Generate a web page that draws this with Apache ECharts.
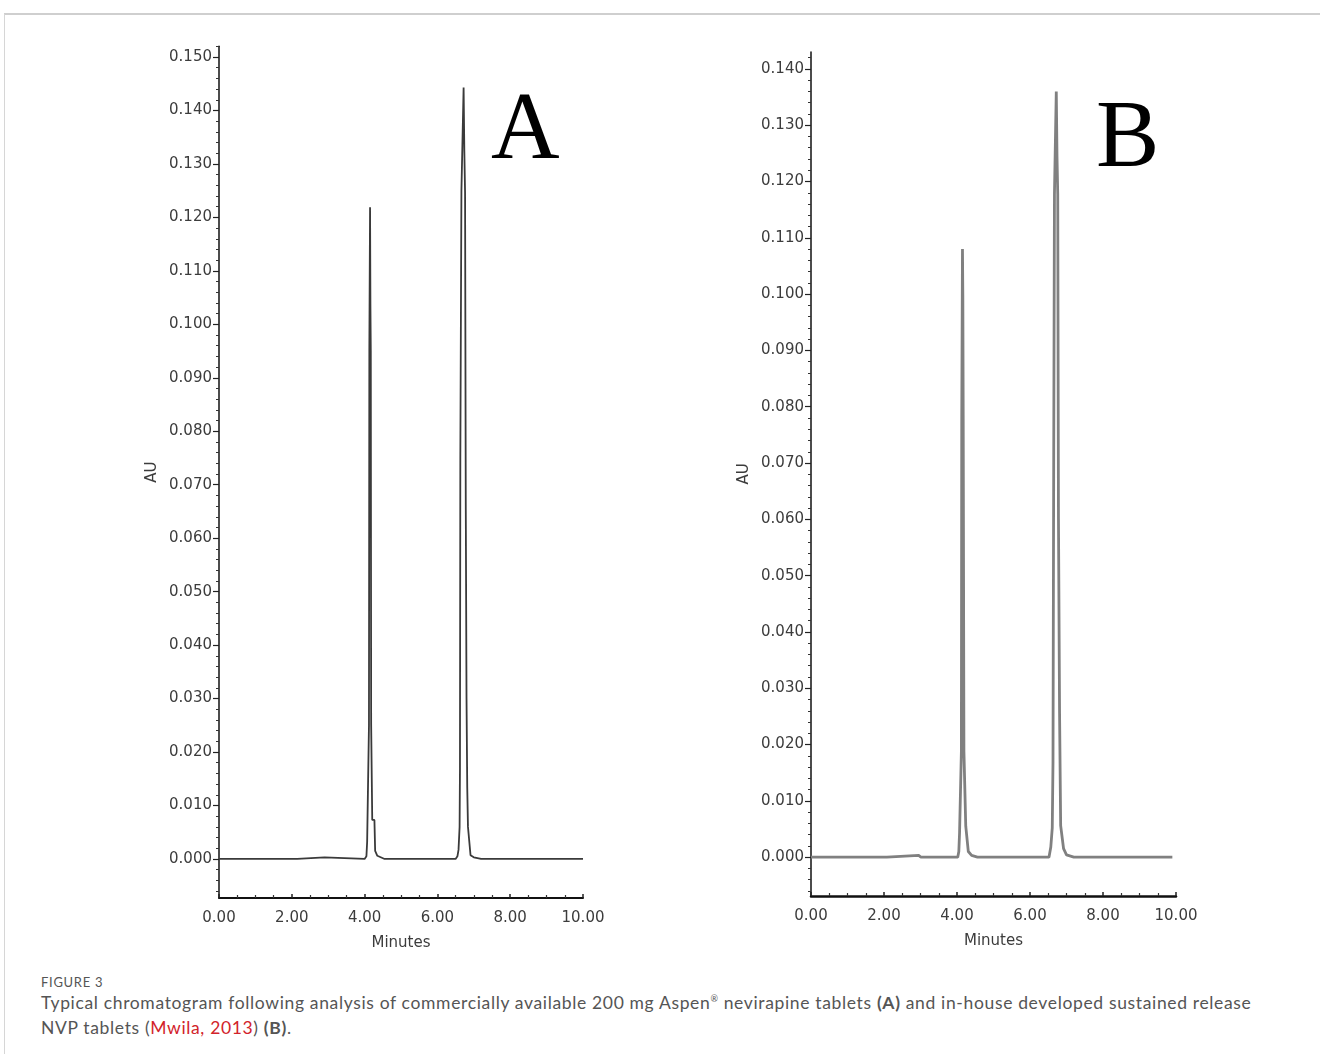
<!DOCTYPE html>
<html>
<head>
<meta charset="utf-8">
<script src="https://cdn.jsdelivr.net/npm/echarts@6/dist/echarts.min.js"></script>
<style>
  html, body { margin: 0; padding: 0; background: #fff; }
  #page { position: relative; width: 1320px; height: 1054px; overflow: hidden; background: #fff; }
  #topline { position: absolute; left: 4px; top: 13px; width: 1316px; height: 2px; background: #cfcfcf; }
  #leftline { position: absolute; left: 4px; top: 14px; width: 1px; height: 1040px; background: #d6d6d6; }
  #chart { position: absolute; left: 0; top: 0; width: 1320px; height: 965px; }
  #cap { position: absolute; left: 41px; top: 974px; font-family: Lato, "Noto Sans", sans-serif; color: #555; white-space: nowrap; }
  #cap .fig { font-size: 13px; letter-spacing: 0.7px; line-height: 16px; }
  #cap .txt { font-size: 17.5px; letter-spacing: 0.65px; line-height: 25px; }
  #cap .red { color: #d2232a; }
  #cap sup { font-size: 9px; vertical-align: 7px; line-height: 0; }
</style>
</head>
<body>
<div id="page">
  <div id="topline"></div>
  <div id="leftline"></div>
  <div id="chart"></div>
  <div id="cap">
    <div class="fig">FIGURE 3</div>
    <div class="txt">Typical chromatogram following analysis of commercially available 200 mg Aspen<sup>®</sup> nevirapine tablets <b>(A)</b> and in-house developed sustained release<br>NVP tablets (<span class="red">Mwila, 2013</span>) <b>(B)</b>.</div>
  </div>
</div>
<script>
// ---- Data (minutes, AU) ----
var traceA = [
  [0, 0], [2.15, 0], [2.2, 0.0003], [2.9, 0.0003], [2.95, 0],
  [4.0, 0], [4.05, 0.0005], [4.07, 0.0032], [4.11, 0.0032], [4.12, 0.025], [4.13, 0.095],
  [4.15, 0.1219], [4.16, 0.1037], [4.17, 0.095], [4.18, 0.0252], [4.20, 0.0252],
  [4.21, 0.0073], [4.27, 0.0073], [4.29, 0.0015], [4.35, 0.0006], [4.55, 0],
  [6.50, 0], [6.55, 0.0005], [6.58, 0.0017], [6.61, 0.006], [6.62, 0.017], [6.63, 0.075],
  [6.66, 0.125], [6.70, 0.125], [6.72, 0.1443], [6.74, 0.1324], [6.76, 0.1247],
  [6.78, 0.0653], [6.80, 0.030], [6.82, 0.0133], [6.84, 0.006], [6.88, 0.006],
  [6.91, 0.0007], [7.0, 0.0003], [7.2, 0], [10, 0]
];
var traceB = [
  [0, 0], [2.08, 0], [2.13, 0.0003], [2.95, 0.0003], [3.01, 0],
  [4.02, 0], [4.05, 0.001], [4.07, 0.0043], [4.11, 0.0043], [4.12, 0.0187], [4.13, 0.078],
  [4.15, 0.108], [4.16, 0.0997], [4.17, 0.0782], [4.19, 0.0187], [4.23, 0.0187],
  [4.24, 0.0055], [4.29, 0.0055], [4.31, 0.001], [4.4, 0.0003], [4.56, 0],
  [6.52, 0], [6.57, 0.0018], [6.61, 0.0052], [6.63, 0.0168], [6.65, 0.0718],
  [6.67, 0.1178], [6.72, 0.136], [6.74, 0.1244], [6.76, 0.1178], [6.78, 0.060],
  [6.81, 0.0256], [6.84, 0.0056], [6.88, 0.0054], [6.92, 0.0015], [7.0, 0.0004],
  [7.2, 0], [9.9, 0]
];
var yTicksA = [0, 0.01, 0.02, 0.03, 0.04, 0.05, 0.06, 0.07, 0.08, 0.09, 0.10, 0.11, 0.12, 0.13, 0.14, 0.15];
var yTicksB = [0, 0.01, 0.02, 0.03, 0.04, 0.05, 0.06, 0.07, 0.08, 0.09, 0.10, 0.11, 0.12, 0.13, 0.14];
var xTicks = [0, 2, 4, 6, 8, 10];
var yRangeA = [-0.0073, 0.152];
var yRangeB = [-0.0069, 0.143];
var xRange = [0, 10];
var panelLetters = ['A', 'B'];
var xName = 'Minutes';
var yName = 'AU';

// minor tick positions
function minorList(from, to, step, majors) {
  var out = [];
  var n = Math.round((to - from) / step);
  for (var i = 0; i <= n; i++) {
    var v = +(from + i * step).toFixed(4);
    var isMajor = majors.some(function (m) { return Math.abs(m - v) < 1e-9; });
    if (!isMajor) out.push(v);
  }
  return out;
}
var yMinorA = minorList(-0.006, 0.152, 0.002, yTicksA);
var yMinorB = minorList(-0.006, 0.142, 0.002, yTicksB);
var xMinor = minorList(0, 10, 0.5, xTicks);

var labelFont = { fontFamily: '"DejaVu Sans", Verdana, sans-serif', fontSize: 15, color: '#3c3c3c' };

function yMain(grid, range, ticks, lineW) {
  return {
    type: 'value', gridIndex: grid, min: range[0], max: range[1], position: 'left',
    name: yName, nameLocation: 'middle', nameGap: 59, nameRotate: 90,
    nameTextStyle: labelFont,
    axisLine: { show: true, lineStyle: { color: '#111', width: lineW } },
    axisTick: { show: true, inside: false, length: 6, customValues: ticks, lineStyle: { color: '#222', width: 1.2 } },
    axisLabel: Object.assign({ customValues: ticks, margin: 7, formatter: function (v) { return v.toFixed(3); } }, labelFont),
    splitLine: { show: false }
  };
}
function yMinor(grid, range, ticks) {
  return {
    type: 'value', gridIndex: grid, min: range[0], max: range[1], position: 'left', offset: 0,
    axisLine: { show: false },
    axisTick: { show: true, inside: false, length: 3, customValues: ticks, lineStyle: { color: '#333', width: 1 } },
    axisLabel: { show: false },
    splitLine: { show: false }
  };
}
function xMain(grid, lineW) {
  return {
    type: 'value', gridIndex: grid, min: xRange[0], max: xRange[1], position: 'bottom',
    name: xName, nameLocation: 'middle', nameGap: 38, nameTextStyle: labelFont,
    axisLine: { show: true, onZero: false, lineStyle: { color: '#111', width: lineW } },
    axisTick: { show: true, inside: true, length: 4, customValues: xTicks, lineStyle: { color: '#222', width: 1.5 } },
    axisLabel: Object.assign({ customValues: xTicks, margin: 13, formatter: function (v) { return v.toFixed(2); } }, labelFont),
    splitLine: { show: false }
  };
}
function xMinorAxis(grid) {
  return {
    type: 'value', gridIndex: grid, min: xRange[0], max: xRange[1], position: 'bottom',
    axisLine: { show: false, onZero: false },
    axisTick: { show: true, inside: true, length: 3, customValues: xMinor, lineStyle: { color: '#333', width: 1.2 } },
    axisLabel: { show: false },
    splitLine: { show: false }
  };
}

var chart = echarts.init(document.getElementById('chart'), null, { renderer: 'canvas' });
chart.setOption({
  animation: false,
  backgroundColor: 'transparent',
  grid: [
    { left: 219, top: 46.3, width: 364, height: 851.7, containLabel: false },
    { left: 811, top: 52, width: 365, height: 844, containLabel: false }
  ],
  xAxis: [xMain(0, 2), xMinorAxis(0), xMain(1, 2.5), xMinorAxis(1)],
  yAxis: [yMain(0, yRangeA, yTicksA, 1.5), yMinor(0, yRangeA, yMinorA), yMain(1, yRangeB, yTicksB, 1.5), yMinor(1, yRangeB, yMinorB)],
  series: [
    { type: 'line', xAxisIndex: 0, yAxisIndex: 0, data: traceA, showSymbol: false, symbol: 'none',
      lineStyle: { color: '#3a3a3a', width: 1.8 }, silent: true },
    { type: 'line', xAxisIndex: 2, yAxisIndex: 2, data: traceB, showSymbol: false, symbol: 'none',
      lineStyle: { color: '#808080', width: 2.8 }, silent: true }
  ],
  graphic: [
    { type: 'text', left: 491, top: 86, style: { text: panelLetters[0], font: '95px "Liberation Serif", "Times New Roman", serif', fill: '#000' } },
    { type: 'text', left: 1096, top: 94, style: { text: panelLetters[1], font: '95px "Liberation Serif", "Times New Roman", serif', fill: '#000' } }
  ]
});
</script>
</body>
</html>
